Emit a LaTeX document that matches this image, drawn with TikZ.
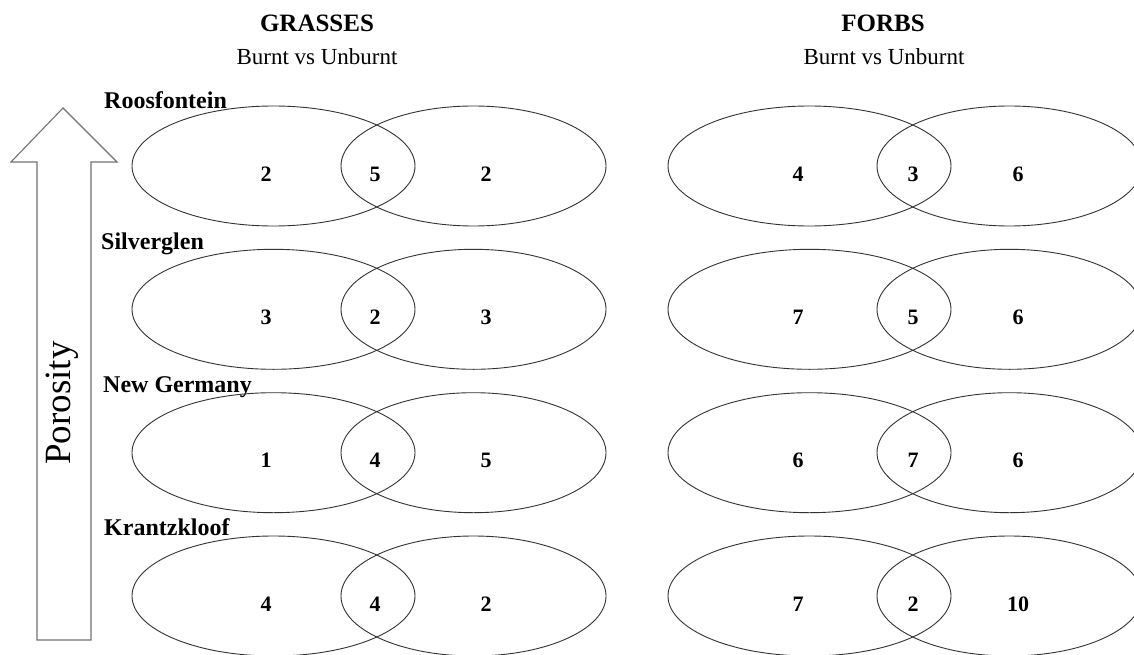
\documentclass[tikz,border=0pt]{standalone}
\usepackage{fontspec}
\setmainfont{Liberation Serif}
\begin{document}
\begin{tikzpicture}[x=1pt,y=-1pt,
  venn/.style={draw=black!80,line width=0.9pt},
  num/.style={inner sep=0pt,font=\fontsize{22}{22}\selectfont\bfseries},
  site/.style={inner sep=0pt,anchor=base west,font=\fontsize{24}{24}\selectfont\bfseries},
  title/.style={inner sep=0pt,font=\fontsize{25}{25}\selectfont\bfseries},
  subtitle/.style={inner sep=0pt,font=\fontsize{23}{23}\selectfont},
  bigarrow/.style={draw=black!55,line width=1.1pt,fill=white}]
\fill[white] (0,0) rectangle (1134,655);
\useasboundingbox (0,0) rectangle (1134,655);

% headers
\node[title] (tg) at (317,23) {GRASSES};
\node[subtitle] (sg) at (317,57) {Burnt vs Unburnt};
\node[title] (tf) at (883,23) {FORBS};
\node[subtitle] (sf) at (884,57) {Burnt vs Unburnt};

% porosity arrow
\draw[bigarrow] (37,640) -- (37,162) -- (11,162) -- (63,108) -- (117,162) -- (91,162) -- (91,640) -- cycle;
\node[inner sep=0pt,rotate=90,font=\fontsize{37}{37}\selectfont] (por) at (62,403) {Porosity};

% site labels
\node[site] (s1) at (104,109) {Roosfontein};
\node[site] (s2) at (101,249) {Silverglen};
\node[site] (s3) at (103,392) {New Germany};
\node[site] (s4) at (104,535) {Krantzkloof};

% ellipses and numbers
\foreach \r/\a/\b/\c/\d/\e/\f [count=\i] in
  {166/2/5/2/4/3/6, 309.3/3/2/3/7/5/6, 452.7/1/4/5/6/7/6, 596/4/4/2/7/2/10}{
  \draw[venn] (273.5,\r) ellipse [x radius=141.5, y radius=60];
  \draw[venn] (473.5,\r) ellipse [x radius=132.5, y radius=60];
  \draw[venn] (809.5,\r) ellipse [x radius=141.5, y radius=60];
  \draw[venn] (1009.5,\r) ellipse [x radius=132.5, y radius=60];
  \node[num] (ga\i) at (266,\r+8) {\a};
  \node[num] (gb\i) at (375,\r+8) {\b};
  \node[num] (gc\i) at (486,\r+8) {\c};
  \node[num] (fa\i) at (798,\r+8) {\d};
  \node[num] (fb\i) at (913,\r+8) {\e};
  \node[num] (fc\i) at (1018,\r+8) {\f};
}
\end{tikzpicture}
\end{document}
